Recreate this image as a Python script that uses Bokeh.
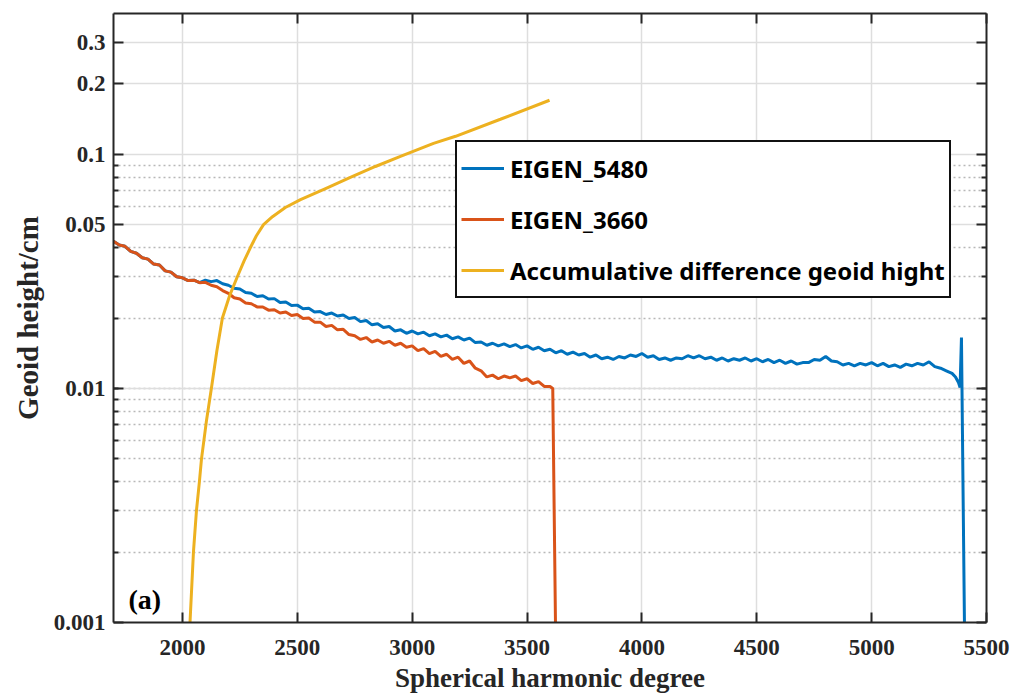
from bokeh.plotting import figure
from bokeh.models import (FixedTicker, LinearAxis, LogAxis, Label, CustomJSTickFormatter,
                          Range1d, CustomLabelingPolicy)
from bokeh.embed import file_html
from bokeh.resources import INLINE

# ---- data ----
x_ticks = [2000, 2500, 3000, 3500, 4000, 4500, 5000, 5500]
y_ticks = [0.001, 0.01, 0.05, 0.1, 0.2, 0.3]
y_minor = [0.002, 0.003, 0.004, 0.005, 0.006, 0.007, 0.008, 0.009, 0.01,
           0.02, 0.03, 0.04, 0.06, 0.07, 0.08, 0.09]

deg_3660 = [1700, 1725, 1750, 1775, 1800, 1825, 1850, 1875, 1900, 1925, 1950, 1975,
            2000, 2025, 2050, 2075, 2100, 2125, 2150, 2175, 2200, 2225, 2250, 2275,
            2300, 2325, 2350, 2375, 2400, 2425, 2450, 2475, 2500, 2525, 2550, 2575,
            2600, 2625, 2650, 2675, 2700, 2725, 2750, 2775, 2800, 2825, 2850, 2875,
            2900, 2925, 2950, 2975, 3000, 3025, 3050, 3075, 3100, 3125, 3150, 3175,
            3200, 3225, 3250, 3275, 3300, 3325, 3350, 3375, 3400, 3425, 3450, 3475,
            3500, 3525, 3550, 3575, 3600, 3612, 3625]
val_3660 = [0.0425, 0.0410, 0.0405, 0.0385, 0.0378, 0.0362, 0.0357, 0.0340, 0.0337, 0.0318,
            0.0314, 0.0300, 0.0297, 0.0289, 0.0290, 0.0283, 0.0284, 0.0276, 0.0272, 0.0262,
            0.0255, 0.0244, 0.0241, 0.0232, 0.0230, 0.0223, 0.0223, 0.0216, 0.0217, 0.0210,
            0.0212, 0.0205, 0.0207, 0.0199, 0.0200, 0.0192, 0.0192, 0.0184, 0.0186, 0.0178,
            0.0179, 0.0170, 0.0168, 0.0162, 0.0165, 0.0158, 0.0161, 0.0156, 0.0159, 0.0153,
            0.0156, 0.0150, 0.0152, 0.0145, 0.0148, 0.0141, 0.0144, 0.0137, 0.0140, 0.0133,
            0.0136, 0.0128, 0.0131, 0.0122, 0.0119, 0.0112, 0.0114, 0.0110, 0.0113, 0.0111,
            0.0113, 0.0108, 0.0110, 0.0105, 0.0107, 0.0102, 0.0102, 0.0100, 0.0008]

deg_5480 = [1700, 1725, 1750, 1775, 1800, 1825, 1850, 1875, 1900, 1925, 1950, 1975,
            2000, 2025, 2050, 2075,
            2100, 2125, 2150, 2175, 2200, 2225, 2250, 2275, 2300, 2325, 2350, 2375,
            2400, 2425, 2450, 2475, 2500, 2525, 2550, 2575, 2600, 2625, 2650, 2675,
            2700, 2725, 2750, 2775, 2800, 2825, 2850, 2875, 2900, 2925, 2950, 2975,
            3000, 3025, 3050, 3075, 3100, 3125, 3150, 3175, 3200, 3225, 3250, 3275,
            3300, 3325, 3350, 3375, 3400, 3425, 3450, 3475, 3500, 3525, 3550, 3575,
            3600, 3625, 3650, 3675, 3700, 3725, 3750, 3775, 3800, 3825, 3850, 3875,
            3900, 3925, 3950, 3975, 4000, 4025, 4050, 4075, 4100, 4125, 4150, 4175,
            4200, 4225, 4250, 4275, 4300, 4325, 4350, 4375, 4400, 4425, 4450, 4475,
            4500, 4525, 4550, 4575, 4600, 4625, 4650, 4675, 4700, 4725, 4750, 4775,
            4800, 4825, 4850, 4875, 4900, 4925, 4950, 4975, 5000, 5025, 5050, 5075,
            5100, 5125, 5150, 5175, 5200, 5225, 5250, 5275, 5300, 5325, 5350, 5365,
            5378, 5385, 5391, 5405]
val_5480 = [0.0425, 0.0410, 0.0405, 0.0385, 0.0378, 0.0362, 0.0357, 0.0340, 0.0337, 0.0318,
            0.0314, 0.0300, 0.0297, 0.0289, 0.0290, 0.0283,
            0.0290, 0.0286, 0.0289, 0.0280, 0.0276, 0.0268, 0.0266, 0.0257, 0.0255, 0.0247,
            0.0249, 0.0241, 0.0242, 0.0233, 0.0234, 0.0226, 0.0227, 0.0219, 0.0220, 0.0212,
            0.0213, 0.0207, 0.0210, 0.0204, 0.0206, 0.0199, 0.0201, 0.0193, 0.0195, 0.0187,
            0.0189, 0.0182, 0.0184, 0.0176, 0.0178, 0.0172, 0.0176, 0.0171, 0.0174, 0.0168,
            0.0171, 0.0166, 0.0169, 0.0163, 0.0166, 0.0161, 0.0164, 0.0157, 0.0158, 0.0153,
            0.0156, 0.0152, 0.0155, 0.0151, 0.0154, 0.0149, 0.0152, 0.0147, 0.0150, 0.0145,
            0.0147, 0.0142, 0.0145, 0.0140, 0.0143, 0.0139, 0.0141, 0.0136, 0.0139, 0.0134,
            0.0136, 0.0133, 0.0137, 0.0135, 0.0139, 0.0137, 0.0141, 0.0136, 0.0138, 0.0133,
            0.0135, 0.0132, 0.0135, 0.0134, 0.0138, 0.0135, 0.0138, 0.0134, 0.0136, 0.0132,
            0.0135, 0.0131, 0.0134, 0.0132, 0.0135, 0.0131, 0.0134, 0.0130, 0.0133, 0.0129,
            0.0132, 0.0128, 0.0131, 0.0127, 0.0129, 0.0129, 0.0133, 0.0132, 0.0137, 0.0131,
            0.0130, 0.0126, 0.0128, 0.0125, 0.0128, 0.0126, 0.0129, 0.0125, 0.0128, 0.0124,
            0.0126, 0.0123, 0.0127, 0.0125, 0.0128, 0.0126, 0.0130, 0.0124, 0.0122, 0.0119,
            0.0116, 0.0112, 0.0106, 0.0101, 0.0165, 0.0008]

deg_acc = [2033, 2048, 2061, 2074, 2083, 2104, 2126, 2150, 2174, 2206, 2239, 2268,
           2296, 2322, 2353, 2392, 2448, 2514, 2623, 2731, 2840, 2949, 3093, 3189,
           3384, 3598]
val_acc = [0.001, 0.002, 0.003, 0.004, 0.005, 0.0072, 0.01, 0.0145, 0.02, 0.025, 0.03,
           0.035, 0.04, 0.0449, 0.0501, 0.0542, 0.0593, 0.0641, 0.0715, 0.0797, 0.0888,
           0.098, 0.1115, 0.1195, 0.1413, 0.1704]

series_names = ["EIGEN_5480", "EIGEN_3660", "Accumulative difference geoid hight"]
series_colors = ["#0072BD", "#D95319", "#EDB120"]

AXC = "#262626"
SERIF = "Liberation Serif"

p = figure(frame_width=873, frame_height=609,
           x_range=Range1d(1700, 5500), y_range=Range1d(0.001, 0.4),
           y_axis_type="log", output_backend="svg", toolbar_location=None,
           min_border_left=113, min_border_right=38, min_border_top=13,
           min_border_bottom=78, background_fill_color="white")
p.outline_line_color = None

xticker = FixedTicker(ticks=x_ticks)
yticker = FixedTicker(ticks=y_ticks, minor_ticks=y_minor)
fmt = CustomJSTickFormatter(code="return tick.toString();")
blank = CustomJSTickFormatter(code="return '';")
no_labels = CustomLabelingPolicy(code="""
    for (const i of indices) { indices.unset(i) }
    return indices
""")

p.xgrid.ticker = xticker
p.ygrid.ticker = yticker
for g in (p.xgrid, p.ygrid):
    g.grid_line_color = "#dedede"
    g.grid_line_width = 1.5
p.ygrid.minor_grid_line_color = "#b8b8b8"
p.ygrid.minor_grid_line_dash = "2 3"
p.ygrid.minor_grid_line_width = 1.5


def style_axis(ax, show_labels=True):
    ax.axis_line_color = AXC
    ax.axis_line_width = 2
    ax.major_tick_line_color = AXC
    ax.major_tick_line_width = 2
    ax.minor_tick_line_color = AXC
    ax.minor_tick_line_width = 2
    ax.major_tick_in = 10
    ax.major_tick_out = 0
    ax.minor_tick_in = 5
    ax.minor_tick_out = 0
    ax.major_label_text_font = SERIF
    ax.major_label_text_font_style = "bold"
    ax.major_label_text_color = AXC
    ax.major_label_text_font_size = "23px" if show_labels else "0px"
    ax.axis_label_text_font = SERIF
    ax.axis_label_text_font_style = "bold"
    ax.axis_label_text_color = AXC


xa = p.xaxis[0]
xa.ticker = xticker
xa.formatter = fmt
style_axis(xa)
xa.major_label_standoff = 17
xa.axis_label = "Spherical harmonic degree"
xa.axis_label_text_font_size = "27px"
xa.axis_label_standoff = 5

ya = p.yaxis[0]
ya.ticker = yticker
ya.formatter = fmt
style_axis(ya)
ya.major_label_standoff = 8
ya.axis_label = "Geoid height/cm"
ya.axis_label_text_font_size = "29px"
ya.axis_label_standoff = 7

top = LinearAxis(ticker=xticker, formatter=blank, major_label_standoff=0,
                 major_label_policy=no_labels)
style_axis(top, False)
p.add_layout(top, "above")
right = LogAxis(ticker=yticker, formatter=blank, major_label_standoff=0,
                major_label_policy=no_labels)
style_axis(right, False)
p.add_layout(right, "right")

p.line(deg_5480, val_5480, line_color=series_colors[0], line_width=3,
       legend_label=series_names[0])
p.line(deg_3660, val_3660, line_color=series_colors[1], line_width=3,
       legend_label=series_names[1])
p.line(deg_acc, val_acc, line_color=series_colors[2], line_width=3,
       legend_label=series_names[2])

lg = p.legend[0]
lg.location = (342, 324)
lg.border_line_color = "#111111"
lg.border_line_alpha = 1
lg.border_line_width = 2
lg.background_fill_color = "white"
lg.background_fill_alpha = 1
lg.label_text_font = "Noto Sans"
lg.label_text_font_style = "bold"
lg.label_text_font_size = "24px"
lg.label_text_color = "black"
lg.glyph_width = 43
lg.glyph_height = 44
lg.label_height = 44
lg.label_standoff = 6
lg.spacing = 7
lg.padding = 4
lg.margin = 0

p.add_layout(Label(x=1765, y=0.00126, text="(a)", text_font=SERIF,
                   text_font_style="bold", text_font_size="28px",
                   text_baseline="middle", text_color="black"))

open("out.html", "w").write(file_html(p, INLINE))
